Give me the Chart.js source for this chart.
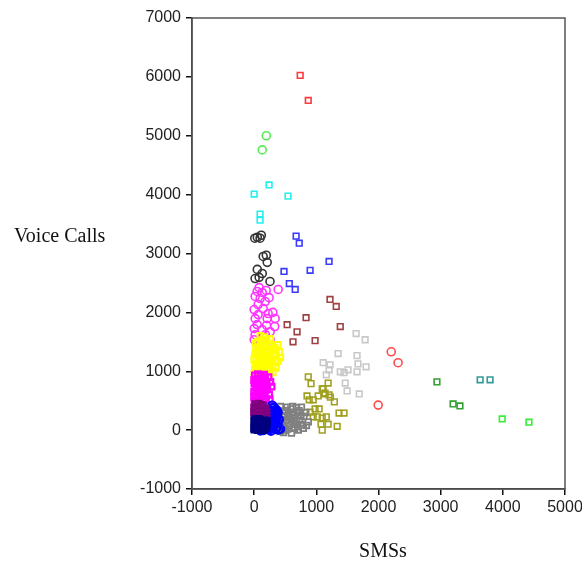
<!DOCTYPE html>
<html>
<head>
<meta charset="utf-8">
<script src="https://cdn.jsdelivr.net/npm/chart.js@4"></script>
<style>
  html, body { margin: 0; padding: 0; background: #fff; }
  #wrap { width: 582px; height: 563px; position: relative; }
</style>
</head>
<body>
<div id="wrap"><canvas id="chart" width="582" height="563"></canvas></div>
<script>
// axis ranges and tick step
const xTicks = [-1000, 0, 1000, 2000, 3000, 4000, 5000];
const yTicks = [-1000, 0, 1000, 2000, 3000, 4000, 5000, 6000, 7000];
const xTitle = "SMSs";
const yTitle = "Voice Calls";

// clusters, [SMSs, Voice Calls]
const navySq = [[5,10],[40,30],[80,5],[120,20],[160,15],[185,40],[10,60],[55,75],[95,55],[140,70],[175,90],[20,110],[65,120],[110,100],[150,130],[190,115],[0,150],[45,160],[90,170],[130,155],[170,165],[30,20],[100,140],[60,0],[140,0],[200,60],[15,185],[75,190],[25,90],[115,45],[160,110],[70,40],[205,150],[0,30]];
const purpleSq = [[5,260],[50,280],[100,250],[150,270],[190,240],[25,320],[75,340],[125,310],[170,330],[0,380],[45,400],[95,390],[140,410],[180,370],[20,440],[70,450],[120,430],[200,300],[60,220],[140,220],[30,360],[110,360],[0,300]];
const blueCirc = [[200,20],[250,10],[300,30],[350,15],[390,5],[220,80],[270,70],[320,90],[370,60],[240,140],[290,130],[340,150],[380,120],[210,190],[260,200],[310,180],[360,210],[230,260],[280,250],[330,270],[370,240],[250,320],[300,330],[340,310],[280,370],[320,380],[150,0],[100,-10],[420,20],[400,180],[360,340],[270,-15],[180,100],[290,420],[300,100],[250,280],[330,220],[260,40],[380,300]];
const magentaSq = [[5,500],[50,520],[100,490],[150,510],[190,530],[20,580],[70,600],[120,570],[170,590],[0,650],[45,670],[95,640],[140,660],[185,680],[25,720],[75,740],[125,710],[165,730],[210,700],[5,790],[55,800],[105,780],[150,810],[200,770],[30,860],[80,870],[130,850],[175,880],[10,930],[60,950],[110,920],[160,940],[240,600],[260,820],[230,900],[280,740],[250,520],[0,560],[0,850]];
const yellowSq = [[5,950],[40,980],[80,940],[120,970],[160,1000],[200,960],[10,1030],[50,1060],[90,1020],[130,1050],[170,1080],[210,1040],[250,1010],[20,1110],[60,1140],[100,1100],[140,1130],[180,1160],[220,1120],[260,1150],[300,1100],[340,1180],[0,1200],[35,1220],[75,1190],[115,1240],[155,1210],[195,1250],[235,1230],[280,1200],[320,1260],[380,1170],[420,1230],[15,1300],[55,1320],[95,1290],[135,1340],[175,1310],[215,1350],[260,1330],[300,1380],[350,1300],[30,1400],[70,1420],[110,1390],[150,1440],[190,1410],[240,1460],[280,1430],[330,1400],[60,1500],[120,1530],[200,1520],[20,1470],[160,1580],[100,1600],[260,1550],[400,1330],[380,1450],[45,900],[150,910],[240,890],[300,980],[350,1060],[200,1180]];
const magentaCirc = [[48,2355],[129,2338],[193,2372],[386,2389],[16,2270],[96,2235],[177,2184],[64,2133],[0,2048],[145,2065],[64,1962],[16,1894],[225,1980],[209,1894],[338,1894],[48,1792],[0,1724],[129,1706],[257,1672],[16,1621],[145,1587],[0,1536],[96,1502],[257,1536],[300,2000],[240,2250],[330,1760],[180,1620],[80,2420],[200,1780]];
const graySq = [[420,400],[530,390],[620,400],[760,390],[500,330],[690,300],[800,230],[870,140],[580,210],[470,140],[660,100],[770,90],[540,20],[710,0],[420,-20],[600,-50],[450,250],[560,280],[640,200],[730,170],[480,60],[520,160],[610,140],[700,60],[790,30],[830,300],[440,180],[590,360],[680,380],[500,0],[650,30],[400,100],[460,320],[750,250],[560,80],[620,260],[720,330],[840,80],[470,-40],[540,230],[400,300],[680,150]];
const oliveSq = [[870,905],[915,790],[1190,800],[1110,700],[850,580],[885,515],[950,515],[1030,580],[1095,700],[1125,615],[1205,600],[1290,480],[1365,290],[1445,290],[900,305],[980,360],[1045,360],[950,225],[1015,225],[1095,205],[1160,225],[1075,100],[1190,100],[1335,65],[1095,0],[1225,560],[1140,630]];
const lightGraySq = [[1640,1640],[1785,1535],[1350,1300],[1655,1265],[1110,1145],[1220,1110],[1670,1125],[1800,1075],[1510,1025],[1385,990],[1445,975],[1655,990],[1205,1025],[1160,940],[1465,800],[1495,665],[1690,615]];
const brownSq = [[1220,2220],[1320,2100],[835,1910],[530,1790],[1385,1760],[690,1670],[625,1500],[980,1520]];
const blueSq = [[675,3295],[725,3175],[1205,2865],[480,2695],[900,2715],[565,2490],[660,2390]];
const blackCirc = [[10,3260],[50,3275],[95,3260],[115,3310],[145,2950],[195,2970],[210,2850],[50,2730],[15,2575],[80,2595],[130,2660],[255,2525]];
const cyanSq = [[240,4165],[0,4010],[545,3975],[95,3670],[95,3565]];
const greenCirc = [[195,5000],[130,4760]];
const redSq = [[740,6025],[870,5600]];
const redCirc = [[2205,1330],[2315,1145],[1995,425]];
const darkGreenSq = [[2940,820],[3200,445],[3310,410]];
const tealSq = [[3635,855],[3795,855]];
const limeSq = [[3990,190],[4420,135]];

const pts = arr => arr.map(p => ({ x: p[0], y: p[1] }));

function series(data, color, style, bw) {
  return {
    data: pts(data),
    showLine: false,
    pointStyle: style,
    pointRadius: 4,
    pointBorderWidth: bw || 1.6,
    borderColor: color,
    backgroundColor: 'rgba(0,0,0,0)',
    pointHoverRadius: 4,
  };
}

// first dataset is painted on top
const datasets = [
  series(navySq, '#000080', 'rect', 2.2),
  series(purpleSq, '#800080', 'rect', 2.2),
  series(blueCirc, '#0000ff', 'circle', 2),
  series(magentaSq, '#ff00ff', 'rect', 2.2),
  series(yellowSq, '#ffff00', 'rect', 2),
  series(magentaCirc, '#ff33ff', 'circle'),
  series(graySq, '#808080', 'rect', 1.8),
  series(oliveSq, '#a0a020', 'rect'),
  series(lightGraySq, '#c8c8c8', 'rect'),
  series(brownSq, '#a04040', 'rect'),
  series(blueSq, '#3a3aff', 'rect'),
  series(blackCirc, '#333333', 'circle'),
  series(cyanSq, '#22f0f0', 'rect'),
  series(greenCirc, '#55ee55', 'circle'),
  series(redSq, '#ff3a3a', 'rect'),
  series(redCirc, '#ff4a4a', 'circle'),
  series(darkGreenSq, '#33a033', 'rect'),
  series(tealSq, '#339999', 'rect'),
  series(limeSq, '#33ee33', 'rect'),
];

const frameAndTitles = {
  id: 'frameAndTitles',
  afterDraw(chart) {
    const { ctx, chartArea: a } = chart;
    ctx.save();
    ctx.strokeStyle = '#555';
    ctx.lineWidth = 1.5;
    ctx.strokeRect(a.left, a.top, a.right - a.left, a.bottom - a.top);
    ctx.fillStyle = '#111';
    ctx.font = '20px "Liberation Serif", "DejaVu Serif", serif';
    ctx.textBaseline = 'middle';
    ctx.textAlign = 'left';
    ctx.fillText(yTitle, 14, 237);
    ctx.textAlign = 'center';
    ctx.fillText(xTitle, 383, 552);
    ctx.restore();
  }
};

const tickFont = { family: '"Liberation Sans", Arial, sans-serif', size: 16 };
const plain = v => String(v);

new Chart(document.getElementById('chart'), {
  type: 'scatter',
  data: { datasets },
  options: {
    responsive: false,
    animation: false,
    layout: { padding: { top: 18, right: 17, left: 0, bottom: 0 } },
    plugins: { legend: { display: false }, tooltip: { enabled: false } },
    scales: {
      x: {
        type: 'linear',
        min: xTicks[0],
        max: xTicks[xTicks.length - 1],
        afterBuildTicks: s => { s.ticks = xTicks.map(v => ({ value: v })); },
        afterFit: s => { s.height = 74; s.paddingLeft = 0; s.paddingRight = 0; },
        ticks: { font: tickFont, color: '#222', padding: 3, maxRotation: 0, callback: plain },
        grid: { drawOnChartArea: false, tickLength: 6, color: '#111', lineWidth: 1.5 },
        border: { display: true, color: '#333', width: 1.5 },
      },
      y: {
        type: 'linear',
        min: yTicks[0],
        max: yTicks[yTicks.length - 1],
        afterBuildTicks: s => { s.ticks = yTicks.map(v => ({ value: v })); },
        afterFit: s => { s.width = 192; s.paddingTop = 0; s.paddingBottom = 0; },
        ticks: { font: tickFont, color: '#222', padding: 5, callback: plain },
        grid: { drawOnChartArea: false, tickLength: 6, color: '#111', lineWidth: 1.5 },
        border: { display: true, color: '#333', width: 1.5 },
      },
    },
  },
  plugins: [frameAndTitles],
});
</script>
</body>
</html>
